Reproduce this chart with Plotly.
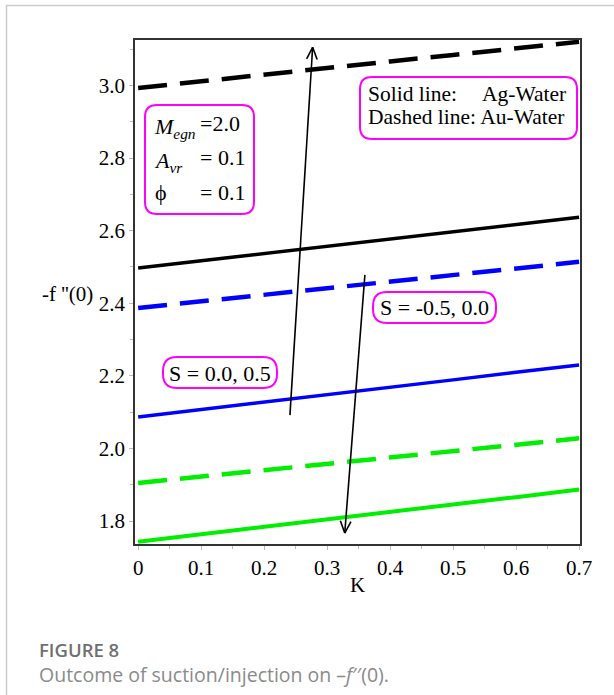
import math
import plotly.graph_objects as go

# ---------------- data ----------------
K = [0.0, 0.1, 0.2, 0.3, 0.4, 0.5, 0.6, 0.7]
au_s05 = [2.993, 3.012, 3.030, 3.048, 3.066, 3.084, 3.102, 3.120]   # black dashed
ag_s05 = [2.497, 2.517, 2.537, 2.557, 2.577, 2.597, 2.617, 2.637]   # black solid
au_s00 = [2.387, 2.405, 2.423, 2.441, 2.459, 2.477, 2.495, 2.514]   # blue dashed
ag_s00 = [2.087, 2.107, 2.128, 2.148, 2.169, 2.189, 2.210, 2.230]   # blue solid
au_sm05 = [1.905, 1.923, 1.940, 1.958, 1.975, 1.993, 2.010, 2.028]  # green dashed
ag_sm05 = [1.743, 1.764, 1.784, 1.805, 1.825, 1.846, 1.866, 1.887]  # green solid

x_ticks = [0, 0.1, 0.2, 0.3, 0.4, 0.5, 0.6, 0.7]
x_ticktext = ["0", "0.1", "0.2", "0.3", "0.4", "0.5", "0.6", "0.7"]
y_ticks = [1.8, 2.0, 2.2, 2.4, 2.6, 2.8, 3.0]
y_ticktext = ["1.8", "2.0", "2.2", "2.4", "2.6", "2.8", "3.0"]

# ---------------- layout geometry ----------------
W, H = 614, 695
L, R, T, B = 135, 580, 40, 544
XR = [-0.005, 0.7015]
YR = [1.737, 3.125]

def PX(x):
    return (x - L) / (R - L)

def PY(y):
    return (B - y) / (B - T)

def d2p(xv, yv):
    px = L + (xv - XR[0]) / (XR[1] - XR[0]) * (R - L)
    py = B - (yv - YR[0]) / (YR[1] - YR[0]) * (B - T)
    return px, py

SERIF = "Liberation Serif, Times New Roman, serif"
SANS = "Open Sans, sans-serif"
DASH = "29px,13px"

fig = go.Figure()
series = [
    (au_s05, "black", 4.5, DASH),
    (ag_s05, "black", 3.5, "solid"),
    (au_s00, "#0000ff", 4.5, DASH),
    (ag_s00, "#0000ff", 3.5, "solid"),
    (au_sm05, "#00ee00", 4.5, DASH),
    (ag_sm05, "#00ee00", 4, "solid"),
]
for vals, col, w, d in series:
    fig.add_trace(go.Scatter(x=K, y=vals, mode="lines",
                             line=dict(color=col, width=w, dash=d),
                             showlegend=False, hoverinfo="skip"))

shapes = []

# card border
shapes.append(dict(type="rect", xref="paper", yref="paper",
                   x0=PX(6.5), x1=PX(660), y0=PY(5.5), y1=PY(760),
                   line=dict(color="#cccccc", width=1.5), fillcolor="rgba(0,0,0,0)",
                   layer="below"))

def rounded(x0, y0, x1, y1, r):
    a = lambda x, y: f"{PX(x):.5f},{PY(y):.5f}"
    path = (f"M {a(x0 + r, y0)} L {a(x1 - r, y0)} Q {a(x1, y0)} {a(x1, y0 + r)} "
            f"L {a(x1, y1 - r)} Q {a(x1, y1)} {a(x1 - r, y1)} "
            f"L {a(x0 + r, y1)} Q {a(x0, y1)} {a(x0, y1 - r)} "
            f"L {a(x0, y0 + r)} Q {a(x0, y0)} {a(x0 + r, y0)} Z")
    return dict(type="path", xref="paper", yref="paper", path=path,
                line=dict(color="#ff00ff", width=2), fillcolor="white", layer="above")

shapes.append(rounded(145, 105, 254, 214, 12))
shapes.append(rounded(360, 77, 577, 139, 12))
shapes.append(rounded(163, 357, 277, 388, 14))
shapes.append(rounded(373, 292, 496, 323, 14))

def arrow(xd0, yd0, xd1, yd1, head=13, ang=24):
    x0, y0 = d2p(xd0, yd0)
    x1, y1 = d2p(xd1, yd1)
    out = [dict(type="line", xref="paper", yref="paper",
                x0=PX(x0), y0=PY(y0), x1=PX(x1), y1=PY(y1),
                line=dict(color="black", width=1.6))]
    th = math.atan2(y0 - y1, x0 - x1)
    for s in (-1, 1):
        t = th + s * math.radians(ang)
        hx, hy = x1 + head * math.cos(t), y1 + head * math.sin(t)
        out.append(dict(type="line", xref="paper", yref="paper",
                        x0=PX(x1), y0=PY(y1), x1=PX(hx), y1=PY(hy),
                        line=dict(color="black", width=1.6)))
    return out

shapes += arrow(0.241, 2.092, 0.277, 3.105)
shapes += arrow(0.360, 2.478, 0.328, 1.767)

ann = []
def txt(x, y, s, size=21, xa="left", font=SERIF, color="black", weight="normal"):
    ann.append(dict(x=PX(x), y=PY(y), xref="paper", yref="paper", text=s,
                    showarrow=False, xanchor=xa, yanchor="middle",
                    font=dict(family=font, size=size, color=color, weight=weight)))

# parameter box
txt(152, 128, "<i>M</i><sub><i>egn</i></sub>", 22)
txt(198, 124, "=2.0", 22)
txt(152, 162, "<i>A</i><sub><i>vr</i></sub>", 22)
txt(198, 158, "= 0.1", 22)
txt(153, 192, "ϕ", 22)
txt(198, 192, "= 0.1", 22)

# legend box
txt(366, 94, "Solid line:", 21.5)
txt(568, 94, "Ag-Water", 21.5, xa="right")
txt(366, 117, "Dashed line: Au-Water", 21.5)

# S labels
txt(220, 373, "S = 0.0, 0.5", 22, xa="center")
txt(434.5, 307.5, "S = -0.5, 0.0", 22, xa="center")

# axis titles
txt(357, 585, "K", 21, xa="center")
txt(95, 294, "-f ''(0)", 21, xa="right")

# caption
txt(37, 649, "FIGURE 8", 18.5, font=SANS, color="#707070", weight=600)
txt(37, 674, "Outcome of suction/injection on \u2013<i>f</i>\u2032\u2032(0).", 19.5,
    font=SANS, color="#8a8a8a")

axis_common = dict(showline=True, linecolor="#333333", linewidth=1.5, mirror=True,
                   ticks="outside", ticklen=4, tickcolor="#bbbbbb", showgrid=False,
                   zeroline=False, tickfont=dict(family=SERIF, size=21, color="black"))

fig.update_layout(
    width=W, height=H,
    margin=dict(l=L, r=W - R, t=T, b=H - B),
    paper_bgcolor="white", plot_bgcolor="white",
    xaxis=dict(range=XR, tickvals=x_ticks, ticktext=x_ticktext,
               minor=dict(ticks="outside", ticklen=3, tickcolor="#bbbbbb", dtick=0.05, tick0=0),
               **axis_common),
    yaxis=dict(range=YR, tickvals=y_ticks, ticktext=y_ticktext,
               minor=dict(ticks="outside", ticklen=3, tickcolor="#bbbbbb", dtick=0.1, tick0=1.8),
               **axis_common),
    shapes=shapes, annotations=ann,
)

fig.write_html("out.html", config={"displayModeBar": False},
               post_script="document.body.style.margin='0';")
